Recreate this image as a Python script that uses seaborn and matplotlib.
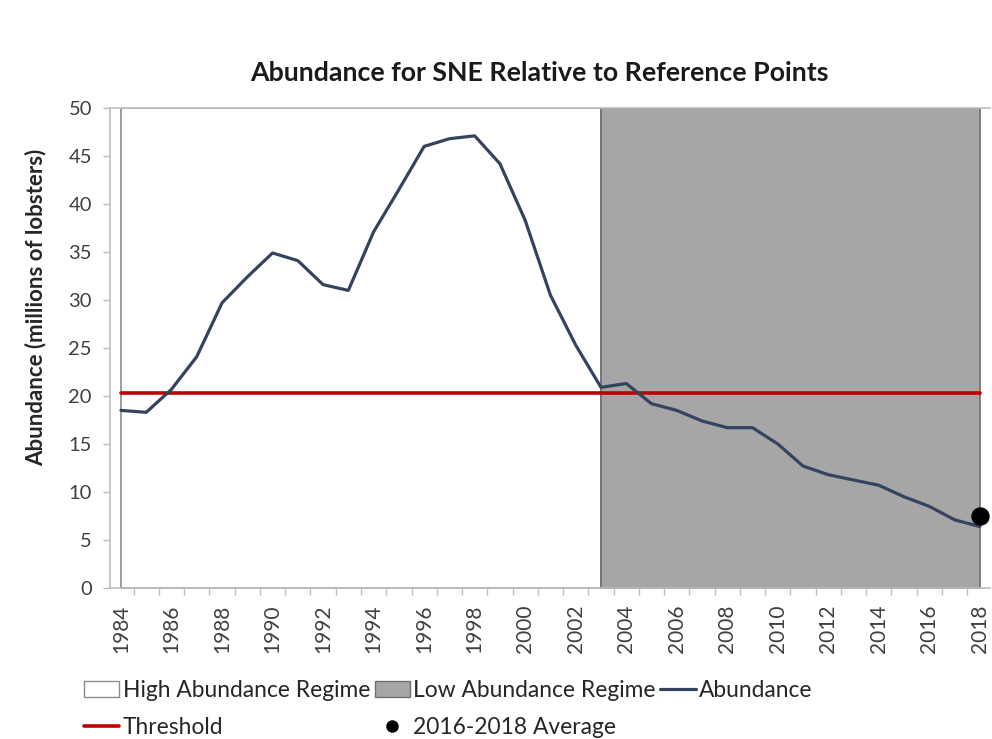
import pandas as pd
import seaborn as sns
import matplotlib.pyplot as plt
from matplotlib.patches import Patch
from matplotlib.lines import Line2D

# datos
years = list(range(1984, 2019))
abundance = [18.5, 18.3, 20.7, 24.1, 29.7, 32.4, 34.9, 34.1, 31.6, 31.0,
             37.1, 41.5, 46.0, 46.8, 47.1, 44.2, 38.3, 30.5, 25.3, 20.9,
             21.3, 19.2, 18.5, 17.4, 16.7, 16.7, 15.0, 12.7, 11.8, 11.25,
             10.7, 9.5, 8.5, 7.1, 6.4]
threshold = [20.35] * len(years)
avg_year = [2018]
avg_value = [7.5]
high_regime = [1984, 2003]
low_regime = [2003, 2018]
regime_top = 50

df = pd.DataFrame({'Year': years, 'Abundance': abundance, 'Threshold': threshold})

sns.set_theme(style="white")
plt.rcParams['font.family'] = ['Lato', 'DejaVu Sans']

fig = plt.figure(figsize=(9.92, 7.39), dpi=100)
ax = fig.add_axes([110 / 992, 1 - 588 / 739, 880 / 992, 480 / 739])

# regimenes
ax.fill_between(high_regime, 0, regime_top, facecolor='white', edgecolor='#8c8c8c', linewidth=1.2, zorder=1)
ax.fill_between(low_regime, 0, regime_top, facecolor='#a6a6a6', edgecolor='#6f6f6f', linewidth=1.2, zorder=1)

sns.lineplot(data=df, x='Year', y='Threshold', color='#c00000', linewidth=2.6, ax=ax, zorder=3)
sns.lineplot(data=df, x='Year', y='Abundance', color='#35435e', linewidth=2.3, ax=ax, zorder=4)
sns.scatterplot(x=avg_year, y=avg_value, color='black', s=150, edgecolor='black', ax=ax, zorder=5)

ax.set_yticks(range(0, 51, 5))
ax.set_xticks(range(1984, 2019, 2))
# marcas entre categorias, como en Excel
ax.set_xticks([y + 0.5 for y in years[:-1]], minor=True)
ax.set_xticklabels([str(y) for y in range(1984, 2019, 2)], rotation=90)
ax.set_xlim(1983.565, 2018.4)
ax.set_ylim(0, 50)
ax.tick_params(axis='y', labelsize=14.5, labelcolor='#404040', length=5, width=1, color='#bfbfbf', left=True, pad=8)
ax.tick_params(axis='x', which='major', labelsize=15, labelcolor='#404040', length=0, pad=12)
ax.tick_params(axis='x', which='minor', length=5, width=1, color='#bfbfbf', bottom=True)

for s in ['left', 'bottom', 'top']:
    ax.spines[s].set_color('#bfbfbf')
    ax.spines[s].set_linewidth(1.2)
ax.spines['right'].set_visible(False)

ax.set_xlabel('')
ax.set_ylabel('Abundance (millions of lobsters)', fontsize=16, fontweight='bold', color='#262626')
ax.yaxis.set_label_coords(-64 / 880, (588 - 307) / 480)
fig.suptitle('Abundance for SNE Relative to Reference Points', x=539 / 992, y=1 - 73 / 739, va='center',
             fontsize=19.3, fontweight='bold', color='#1a1a1a')

handles = [
    Patch(facecolor='white', edgecolor='#8c8c8c', label='High Abundance Regime'),
    Line2D([], [], color='#c00000', linewidth=2.6, label='Threshold'),
    Patch(facecolor='#a6a6a6', edgecolor='#6f6f6f', label='Low Abundance Regime'),
    Line2D([], [], marker='o', linestyle='', color='black', markersize=8, label='2016-2018 Average'),
    Line2D([], [], color='#35435e', linewidth=2.3, label='Abundance'),
]
fig.legend(handles=handles, ncol=3, loc='center left', bbox_to_anchor=(68 / 992, 1 - 709 / 739),
           frameon=False, fontsize=16.4, handlelength=1.55, handletextpad=0.15, columnspacing=0.2,
           labelspacing=0.72, labelcolor='#262626', borderpad=0.2)

plt.savefig('out.png', dpi=100)
